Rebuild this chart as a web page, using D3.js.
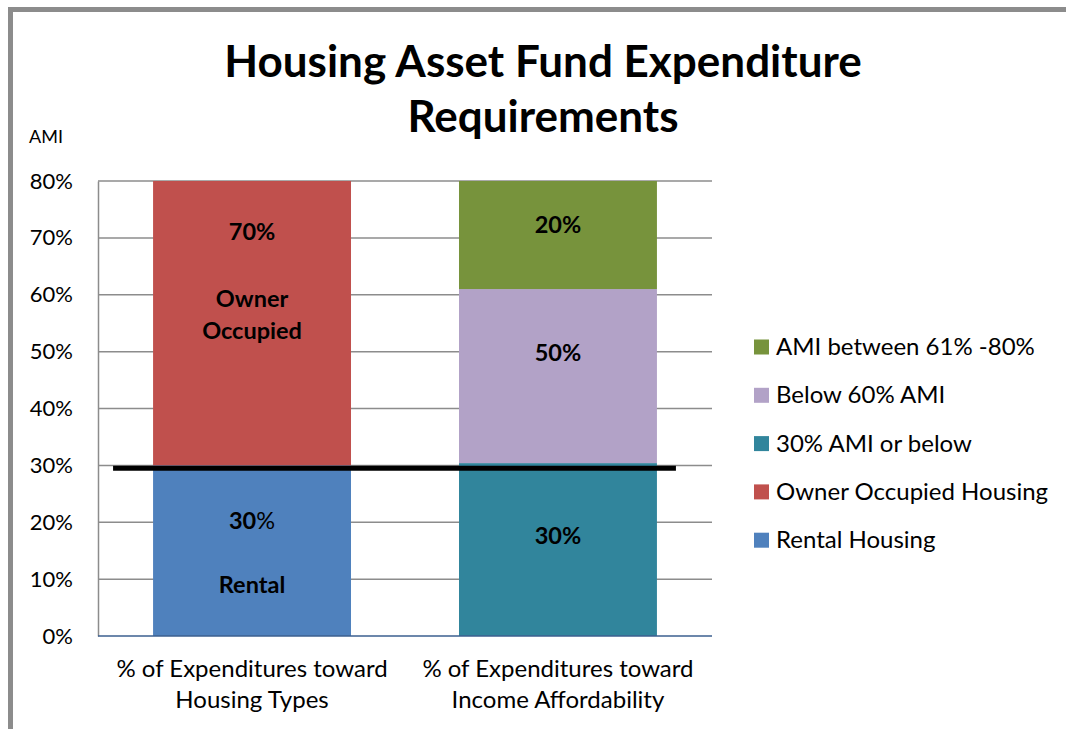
<!DOCTYPE html>
<html>
<head>
<meta charset="utf-8">
<script src="https://cdn.jsdelivr.net/npm/d3@7"></script>
<style>
  html, body { margin: 0; padding: 0; background: #fff; }
  svg { display: block; font-family: Lato, "Open Sans", sans-serif; }
</style>
</head>
<body>
<div id="chart"></div>
<script>
// カテゴリ(横軸の2本の棒)
var categories = ["housing", "income"];
var categoryLabels = [
  ["% of Expenditures toward", "Housing Types"],
  ["% of Expenditures toward", "Income Affordability"]
];

// 系列(下から積み上げる順)
var seriesKeys = ["rental", "owner", "ami30", "below60", "ami61to80"];
var seriesNames = ["Rental Housing", "Owner Occupied Housing", "30% AMI or below", "Below 60% AMI", "AMI between 61% -80%"];
var seriesColors = ["#4f81bd", "#c0504d", "#31859c", "#b2a2c7", "#77933c"];

// 各カテゴリの値(%)
var rentalValues = [30, 0];
var ownerValues = [70, 0];
var ami30Values = [0, 30.4];
var below60Values = [0, 30.6];
var ami61to80Values = [0, 19];

// 縦軸の目盛り
var yTicks = [0, 10, 20, 30, 40, 50, 60, 70, 80];
var yMax = 80;

// 30%の基準線
var thresholdValue = 29.5;

// 棒の中の文字(カテゴリ, 縦位置の値, 文字)
var barLabelCategory = ["housing", "housing", "housing", "housing", "housing", "income", "income", "income"];
var barLabelValue = [71, 59.3, 53.6, 20.3, 9, 72.3, 49.8, 17.5];
var barLabelText = ["70%", "Owner", "Occupied", "30", "Rental", "20%", "50%", "30%"];

var titleLines = ["Housing Asset Fund Expenditure", "Requirements"];
var yAxisTitle = "AMI";

//---------------------------------------------
var width = 1066, height = 729;
var plot = { left: 98, right: 712, top: 181, bottom: 636 };

var svg = d3.select("#chart").append("svg")
  .attr("width", width).attr("height", height);

// 影用のフィルタ
var defs = svg.append("defs");
var blur = defs.append("filter").attr("id", "shadow")
  .attr("x", "-5%").attr("y", "-200%").attr("width", "110%").attr("height", "500%");
blur.append("feGaussianBlur").attr("stdDeviation", 2);
defs.append("clipPath").attr("id", "plotclip")
  .append("rect")
  .attr("x", plot.left).attr("y", plot.top)
  .attr("width", plot.right - plot.left).attr("height", plot.bottom - plot.top);

// 外枠
svg.append("path")
  .attr("d", "M10.5," + height + " V9.5 H" + width)
  .attr("fill", "none")
  .attr("stroke", "#8c8c8c")
  .attr("stroke-width", 5);

// タイトル
svg.append("text")
  .attr("x", 543).attr("y", 77)
  .attr("text-anchor", "middle")
  .attr("font-size", 44).attr("font-weight", "bold")
  .text(titleLines[0]);
svg.append("text")
  .attr("x", 543).attr("y", 132)
  .attr("text-anchor", "middle")
  .attr("font-size", 44).attr("font-weight", "bold")
  .text(titleLines[1]);

svg.append("text")
  .attr("x", 46).attr("y", 143)
  .attr("text-anchor", "middle")
  .attr("font-size", 18)
  .text(yAxisTitle);

// スケール
var xScale = d3.scaleBand()
  .domain(categories)
  .range([plot.left, plot.right])
  .paddingInner(0.353)
  .paddingOuter(0.18);

var yScale = d3.scaleLinear()
  .domain([0, yMax])
  .range([plot.bottom, plot.top]);

// 目盛り線
svg.append("g")
  .selectAll("line")
  .data(yTicks.filter(function (d) { return d > 0; }))
  .enter()
  .append("line")
  .attr("x1", plot.left).attr("x2", plot.right)
  .attr("y1", function (d) { return yScale(d); })
  .attr("y2", function (d) { return yScale(d); })
  .attr("stroke", "#8c8c8c")
  .attr("stroke-width", 1.5);

// y軸
var yAxis = svg.append("g")
  .attr("transform", "translate(" + plot.left + ",0)")
  .call(d3.axisLeft(yScale)
    .tickValues(yTicks)
    .tickSize(0)
    .tickSizeOuter(0)
    .tickPadding(25)
    .tickFormat(function (d) { return d + "%"; }));
yAxis.select(".domain").attr("stroke", "#8c8c8c").attr("stroke-width", 1.5);
yAxis.selectAll("text")
  .attr("font-size", 22)
  .attr("fill", "#000")
  .attr("font-family", "Lato, 'Open Sans', sans-serif");

// 積み上げデータ
var valueLists = [rentalValues, ownerValues, ami30Values, below60Values, ami61to80Values];
var table = categories.map(function (c, i) {
  var row = { category: c };
  seriesKeys.forEach(function (k, j) { row[k] = valueLists[j][i]; });
  return row;
});
var stacked = d3.stack().keys(seriesKeys)(table);

var bars = svg.append("g").attr("clip-path", "url(#plotclip)");
bars.selectAll("g")
  .data(stacked)
  .enter()
  .append("g")
  .attr("fill", function (d, i) { return seriesColors[i]; })
  .selectAll("rect")
  .data(function (d) { return d.filter(function (p) { return p[1] - p[0] > 0; }); })
  .enter()
  .append("rect")
  .attr("x", function (d) { return xScale(d.data.category); })
  .attr("width", xScale.bandwidth())
  .attr("y", function (d) { return yScale(d[1]); })
  .attr("height", function (d) { return yScale(d[0]) - yScale(d[1]); });

// x軸の線
svg.append("line")
  .attr("x1", plot.left).attr("x2", plot.right)
  .attr("y1", yScale(0)).attr("y2", yScale(0))
  .attr("stroke", "#3b5f8f")
  .attr("stroke-width", 1.5);

// x軸のラベル
categories.forEach(function (c, i) {
  var t = svg.append("text")
    .attr("text-anchor", "middle")
    .attr("font-size", 24);
  categoryLabels[i].forEach(function (line, k) {
    t.append("tspan")
      .attr("x", xScale(c) + xScale.bandwidth() / 2)
      .attr("y", 677 + k * 31)
      .text(line);
  });
});

// 30%の基準線(影つき)
var lineX1 = xScale(categories[0]) - 40;
var lineX2 = xScale(categories[1]) + xScale.bandwidth() + 19;
svg.append("line")
  .attr("x1", lineX1 + 3).attr("x2", lineX2 + 3)
  .attr("y1", yScale(thresholdValue) + 3).attr("y2", yScale(thresholdValue) + 3)
  .attr("stroke", "#000").attr("stroke-opacity", 0.5)
  .attr("stroke-width", 5)
  .attr("filter", "url(#shadow)");
svg.append("line")
  .attr("x1", lineX1).attr("x2", lineX2)
  .attr("y1", yScale(thresholdValue)).attr("y2", yScale(thresholdValue))
  .attr("stroke", "#000")
  .attr("stroke-width", 5);

// 棒の中の文字
barLabelText.forEach(function (txt, i) {
  var t = svg.append("text")
    .attr("x", xScale(barLabelCategory[i]) + xScale.bandwidth() / 2)
    .attr("y", yScale(barLabelValue[i]) + 8)
    .attr("text-anchor", "middle")
    .attr("font-size", 23.5)
    .attr("font-weight", "bold");
  t.append("tspan").text(txt);
  // 左の棒の「30%」は%だけ細字
  if (txt == "30") {
    t.append("tspan").attr("font-weight", "normal").text("%");
  }
});

// 凡例(上から逆順)
var legendOrder = d3.range(seriesKeys.length).reverse();
var legend = svg.append("g")
  .selectAll("g")
  .data(legendOrder)
  .enter()
  .append("g")
  .attr("transform", function (d, i) { return "translate(754," + (347 + i * 48.3) + ")"; });
legend.append("rect")
  .attr("x", 0).attr("y", -7.5)
  .attr("width", 15).attr("height", 15)
  .attr("fill", function (d) { return seriesColors[d]; });
legend.append("text")
  .attr("x", 22).attr("y", 8)
  .attr("font-size", 24)
  .text(function (d) { return seriesNames[d]; });
</script>
</body>
</html>
